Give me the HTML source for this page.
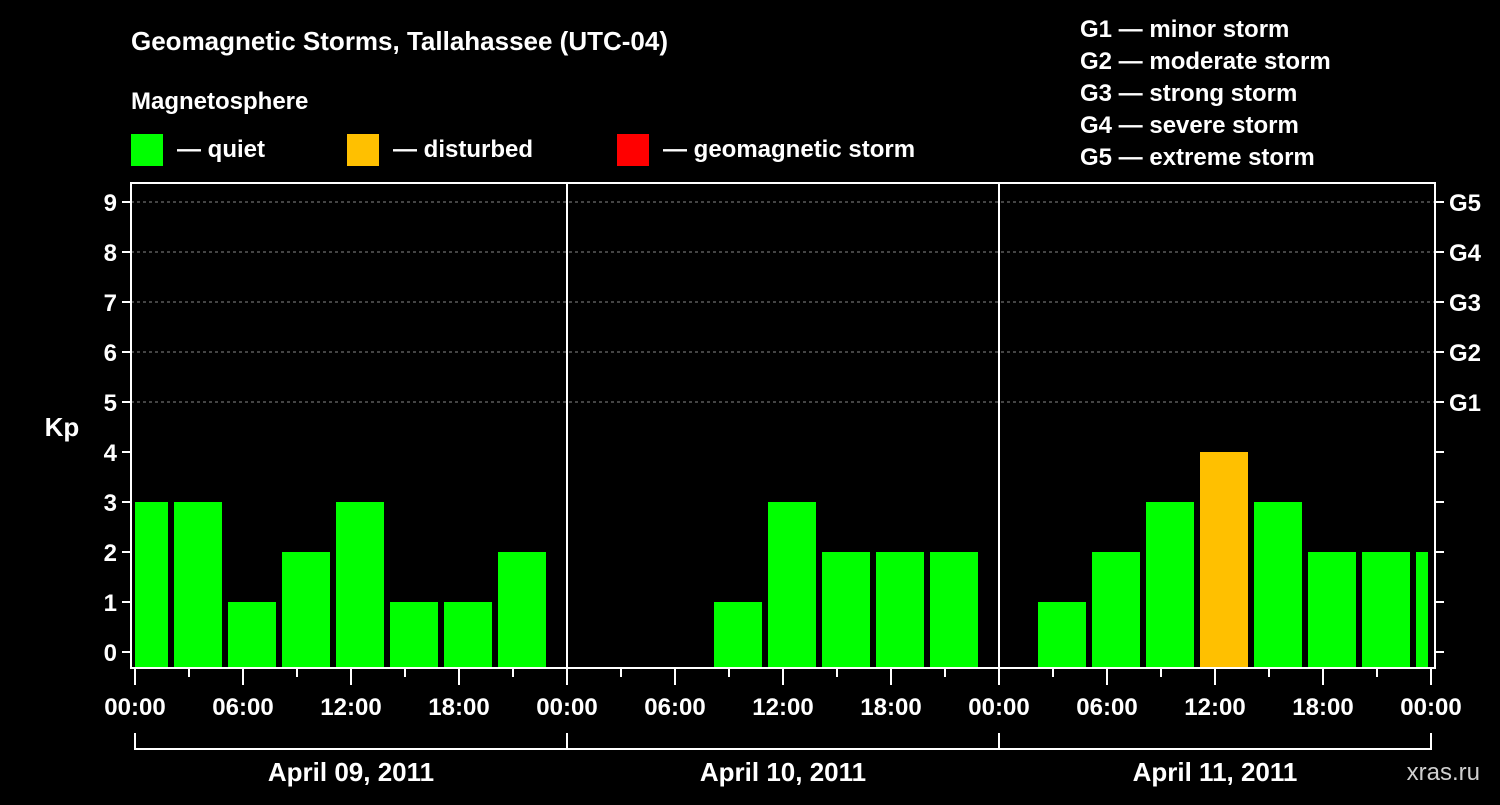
<!DOCTYPE html>
<html><head><meta charset="utf-8"><style>
body{margin:0;background:#000;}
svg text{font-family:"Liberation Sans",Arial,sans-serif;font-weight:bold;fill:#fff;}
</style></head><body>
<svg id="chart" width="1500" height="800">
<rect width="1500" height="800" fill="#000"/>
<text x="131" y="50" font-size="26">Geomagnetic Storms, Tallahassee (UTC-04)</text>
<text x="131" y="109" font-size="24">Magnetosphere</text>
<rect x="131" y="134" width="32" height="32" fill="#00ff00"/>
<text x="177" y="157" font-size="24">— quiet</text>
<rect x="347" y="134" width="32" height="32" fill="#ffc000"/>
<text x="393" y="157" font-size="24">— disturbed</text>
<rect x="617" y="134" width="32" height="32" fill="#ff0000"/>
<text x="663" y="157" font-size="24">— geomagnetic storm</text>
<g font-size="24">
<text x="1080" y="37">G1 — minor storm</text>
<text x="1080" y="69">G2 — moderate storm</text>
<text x="1080" y="101">G3 — strong storm</text>
<text x="1080" y="133">G4 — severe storm</text>
<text x="1080" y="165">G5 — extreme storm</text>
</g>
<text x="62" y="436" font-size="26" text-anchor="middle">Kp</text>
<text x="1480" y="780" font-size="24" text-anchor="end" fill="#ccc" style="fill:#cfcfcf;font-weight:normal">xras.ru</text>
<g id="plot"></g>
</svg>
<script>
const kpValues=[3,3,1,2,3,1,1,2,null,null,null,1,3,2,2,2,null,1,2,3,4,3,2,2,2];
const dayLabels=["April 09, 2011","April 10, 2011","April 11, 2011"];
const hourLabels=["00:00","06:00","12:00","18:00"];
const kpTicks=[0,1,2,3,4,5,6,7,8,9];
const gLabels=["G1","G2","G3","G4","G5"];
const NS="http://www.w3.org/2000/svg";
const g=document.getElementById('plot');
const X0=135,PXH=18,Y0=652,PXK=50,L=131,R=1435,T=183,B=668;
const xs=h=>X0+h*PXH, ys=k=>Y0-k*PXK;
function mk(tag,at){const e=document.createElementNS(NS,tag);for(const k in at)e.setAttribute(k,at[k]);g.appendChild(e);return e;}
// grid
for(let k=5;k<=9;k++){const e=mk('line',{x1:L,x2:R,y1:ys(k),y2:ys(k),stroke:'#888','stroke-dasharray':'3,3'});

}
// bars
kpValues.forEach((v,i)=>{if(v===null)return;
let a=xs(3*i-1)+3,b=xs(3*i+2)-3;a=Math.max(a,X0);b=Math.min(b,xs(72)-3);
const e=mk('rect',{x:a,y:ys(v),width:b-a,height:B-ys(v),fill:v>=5?'#ff0000':v>=4?'#ffc000':'#00ff00'});

});
// frame
const f=mk('rect',{x:L,y:T,width:R-L,height:B-T,fill:'none',stroke:'#fff','stroke-width':2});


for(let d=1;d<3;d++){const e=mk('line',{x1:xs(24*d),x2:xs(24*d),y1:T,y2:B,stroke:'#fff','stroke-width':2});

}
// y ticks
kpTicks.forEach(k=>{mk('line',{x1:L-9,x2:L,y1:ys(k),y2:ys(k),stroke:'#fff','stroke-width':2});
mk('line',{x1:R,x2:R+9,y1:ys(k),y2:ys(k),stroke:'#fff','stroke-width':2});
const t=mk('text',{x:L-14,y:ys(k)+9,'font-size':24,'text-anchor':'end'});t.textContent=k;

});
gLabels.forEach((s,i)=>{const t=mk('text',{x:R+14,y:ys(5+i)+9,'font-size':24});t.textContent=s;

});
// x ticks
for(let h=0;h<=72;h+=3){const maj=h%6===0;mk('line',{x1:xs(h),x2:xs(h),y1:B,y2:B+(maj?17:9),stroke:'#fff','stroke-width':2});
if(maj){const t=mk('text',{x:xs(h),y:B+47,'font-size':24,'text-anchor':'middle'});t.textContent=hourLabels[(h/6)%4];

}}
// day brackets
for(let d=0;d<=3;d++)mk('line',{x1:xs(24*d),x2:xs(24*d),y1:733,y2:750,stroke:'#fff','stroke-width':2});
mk('line',{x1:xs(0),x2:xs(72),y1:749,y2:749,stroke:'#fff','stroke-width':2});
dayLabels.forEach((s,d)=>{const t=mk('text',{x:xs(24*d+12),y:781,'font-size':26,'text-anchor':'middle'});t.textContent=s;

});
</script>
</body></html>
